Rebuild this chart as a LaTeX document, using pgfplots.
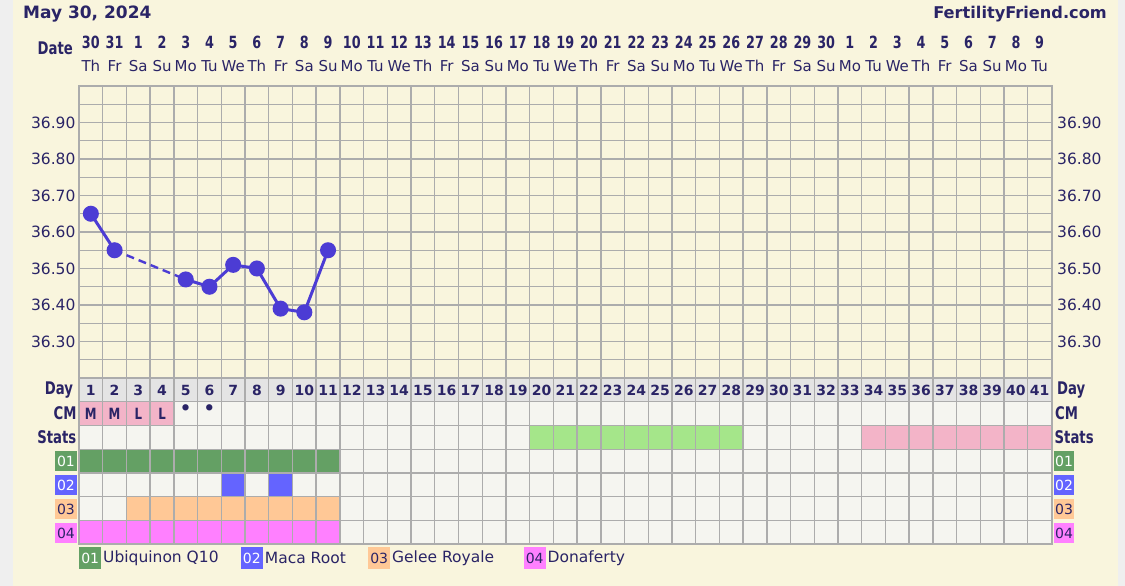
\documentclass[border=0pt]{standalone}
\usepackage{pgfplots}
\pgfplotsset{compat=1.18}
\usepackage{fontspec}
\setmainfont{DejaVu Sans}
\newfontfamily\cond[FakeStretch=0.76]{DejaVu Sans}
\definecolor{cream}{RGB}{249,245,221}
\definecolor{strip}{RGB}{239,239,239}
\definecolor{navy}{RGB}{42,36,102}
\definecolor{gridc}{RGB}{172,172,172}
\definecolor{cellbg}{RGB}{245,245,240}
\definecolor{dayrow}{RGB}{228,228,228}
\definecolor{pinkc}{RGB}{243,180,200}
\definecolor{statg}{RGB}{165,230,138}
\definecolor{cA}{RGB}{100,160,100}
\definecolor{cB}{RGB}{100,100,255}
\definecolor{cC}{RGB}{255,200,150}
\definecolor{cD}{RGB}{255,128,255}
\definecolor{linec}{RGB}{76,60,212}
\newcommand{\fs}[1]{\fontsize{#1}{#1}\selectfont}
\begin{document}
\begin{tikzpicture}[x=1pt,y=1pt]
\fill[strip] (0,0) rectangle (1125,586);
\fill[cream] (13,0) rectangle (1118,586);

% ---------- temperature chart ----------
\begin{axis}[
  at={(79pt,208pt)}, anchor=south west, scale only axis,
  width=972.5pt, height=292pt,
  xmin=0.5, xmax=41.5, ymin=36.2, ymax=37.0,
  xtick={0.5,1.5,...,41.5}, xticklabels={},
  ytick={36.3,36.4,36.5,36.6,36.7,36.8,36.9},
  yticklabels={36.30,36.40,36.50,36.60,36.70,36.80,36.90},
  minor ytick={36.25,36.35,36.45,36.55,36.65,36.75,36.85,36.95},
  grid=both,
  major grid style={gridc, line width=1.4pt},
  minor grid style={gridc, line width=1.4pt},
  major tick length=0pt, minor tick length=0pt,
  axis line style={gridc, line width=2pt},
  yticklabel style={font=\fs{15.5}, text=navy},
  clip=false,
]
\addplot[linec, line width=2.4pt, dash pattern=on 8pt off 5pt, no marks]
  coordinates {(2,36.55)(5,36.47)};
\addplot[linec, line width=3pt, mark=*, mark size=6.5pt, mark options={solid, fill=linec, draw=linec}]
  coordinates {(1,36.65)(2,36.55)};
\addplot[linec, line width=3pt, mark=*, mark size=6.5pt, mark options={solid, fill=linec, draw=linec}]
  coordinates {(5,36.47)(6,36.45)(7,36.51)(8,36.50)(9,36.39)(10,36.38)(11,36.55)};
\pgfplotsinvokeforeach{36.30,36.40,36.50,36.60,36.70,36.80,36.90}{
  \node[anchor=west, xshift=5.5pt, inner sep=0pt, text=navy, font=\fs{15.5}] at (axis cs:41.5,#1) {#1};
}
\end{axis}

% ---------- table ----------
\begin{axis}[
  at={(79pt,41.7pt)}, anchor=south west, scale only axis,
  width=972.5pt, height=166.3pt,
  xmin=0.5, xmax=41.5, ymin=0, ymax=7,
  xtick={0.5,1.5,...,41.5}, xticklabels={},
  ytick={0,1,...,7}, yticklabels={},
  grid=major, major grid style={gridc, line width=1.4pt},
  major tick length=0pt,
  axis line style={gridc, line width=2pt},
  axis on top,
]
% background cells
\addplot[fill=cellbg, draw=none] coordinates {(0.5,0)(41.5,0)(41.5,6)(0.5,6)};
% day row
\addplot[fill=dayrow, draw=none] coordinates {(0.5,6)(41.5,6)(41.5,7)(0.5,7)};
% CM row
\addplot[fill=pinkc, draw=none] coordinates {(0.5,5)(4.5,5)(4.5,6)(0.5,6)};
% Stats row
\addplot[fill=statg, draw=none] coordinates {(19.5,4)(28.5,4)(28.5,5)(19.5,5)};
\addplot[fill=pinkc, draw=none] coordinates {(33.5,4)(41.5,4)(41.5,5)(33.5,5)};
% 01
\addplot[fill=cA, draw=none] coordinates {(0.5,3)(11.5,3)(11.5,4)(0.5,4)};
% 02
\addplot[fill=cB, draw=none] coordinates {(6.5,2)(7.5,2)(7.5,3)(6.5,3)};
\addplot[fill=cB, draw=none] coordinates {(8.5,2)(9.5,2)(9.5,3)(8.5,3)};
% 03
\addplot[fill=cC, draw=none] coordinates {(2.5,1)(11.5,1)(11.5,2)(2.5,2)};
% 04
\addplot[fill=cD, draw=none] coordinates {(0.5,0)(11.5,0)(11.5,1)(0.5,1)};
\end{axis}

% ---------- texts ----------
\node[anchor=base west, inner sep=0pt, text=navy, font=\fs{17}\bfseries] at (23,567.7) {May 30, 2024};
\node[anchor=base east, inner sep=0pt, text=navy, font=\fs{16.2}\bfseries] at (1107,567.5) {FertilityFriend.com};

\node[anchor=base east, inner sep=0pt, text=navy, font=\cond\fs{17.4}\bfseries] at (73,531.7) {Date};

\foreach \d/\w [count=\i] in {30/Th,31/Fr,1/Sa,2/Su,3/Mo,4/Tu,5/We,6/Th,7/Fr,8/Sa,9/Su,10/Mo,11/Tu,12/We,13/Th,14/Fr,15/Sa,16/Su,17/Mo,18/Tu,19/We,20/Th,21/Fr,22/Sa,23/Su,24/Mo,25/Tu,26/We,27/Th,28/Fr,29/Sa,30/Su,1/Mo,2/Tu,3/We,4/Th,5/Fr,6/Sa,7/Su,8/Mo,9/Tu}{
  \pgfmathsetmacro\xx{79+(\i-0.5)*23.72}
  \node[anchor=base, inner sep=0pt, text=navy, font=\cond\fs{16.8}\bfseries] at (\xx,537.7) {\d};
  \node[anchor=base, inner sep=0pt, text=navy, font=\fs{15}] at (\xx,514.3) {\w};
}

\foreach \i in {1,...,41}{
  \pgfmathsetmacro\xx{79+(\i-0.5)*23.72}
  \node[anchor=base, inner sep=0pt, text=navy, font=\fs{14}\bfseries] at (\xx,190) {\i};
}

% CM entries
\foreach \i/\t in {1/M,2/M,3/L,4/L}{
  \pgfmathsetmacro\xx{79+(\i-0.5)*23.72}
  \node[anchor=base, inner sep=0pt, text=navy, font=\cond\fs{15.5}\bfseries] at (\xx,166.7) {\t};
}
\foreach \i in {5,6}{
  \pgfmathsetmacro\xx{79+(\i-0.5)*23.72}
  \node[inner sep=0pt, text=navy, font=\fs{18}\bfseries] at (\xx,176) {•};
}

% row labels left
\node[anchor=base east, inner sep=0pt, text=navy, font=\cond\fs{17.4}\bfseries] at (73.3,191) {Day};
\node[anchor=base east, inner sep=0pt, text=navy, font=\cond\fs{17.4}\bfseries] at (76.7,166.7) {CM};
\node[anchor=base east, inner sep=0pt, text=navy, font=\cond\fs{17.4}\bfseries] at (76.5,142.7) {Stats};
% row labels right
\node[anchor=base west, inner sep=0pt, text=navy, font=\cond\fs{17.4}\bfseries] at (1057,191) {Day};
\node[anchor=base west, inner sep=0pt, text=navy, font=\cond\fs{17.4}\bfseries] at (1055,166.7) {CM};
\node[anchor=base west, inner sep=0pt, text=navy, font=\cond\fs{17.4}\bfseries] at (1054.5,142.7) {Stats};

% coloured number boxes
\foreach \n/\c/\tc/\yy in {01/cA/white/125, 02/cB/white/101, 03/cC/navy/77, 04/cD/navy/53}{
  \node[fill=\c, text=\tc, font=\fs{14}, minimum width=22pt, minimum height=20pt, inner sep=0pt] at (66,\yy) {\n};
  \node[fill=\c, text=\tc, font=\fs{14}, minimum width=20pt, minimum height=20pt, inner sep=0pt] at (1064,\yy) {\n};
}

% legend
\foreach \n/\c/\tc/\bx/\lab in {01/cA/white/79/Ubiquinon Q10, 02/cB/white/240.7/Maca Root, 03/cC/navy/368/Gelee Royale, 04/cD/navy/523.5/Donaferty}{
  \node[anchor=west, fill=\c, text=\tc, font=\fs{14}, minimum width=22pt, minimum height=22pt, inner sep=0pt] at (\bx,28) {\n};
  \node[anchor=west, text=navy, font=\fs{15.5}, inner sep=0pt] at (\bx+24,28) {\lab};
}

\pgfresetboundingbox
\path[use as bounding box] (0,0) rectangle (1125,586);
\end{tikzpicture}
\end{document}
